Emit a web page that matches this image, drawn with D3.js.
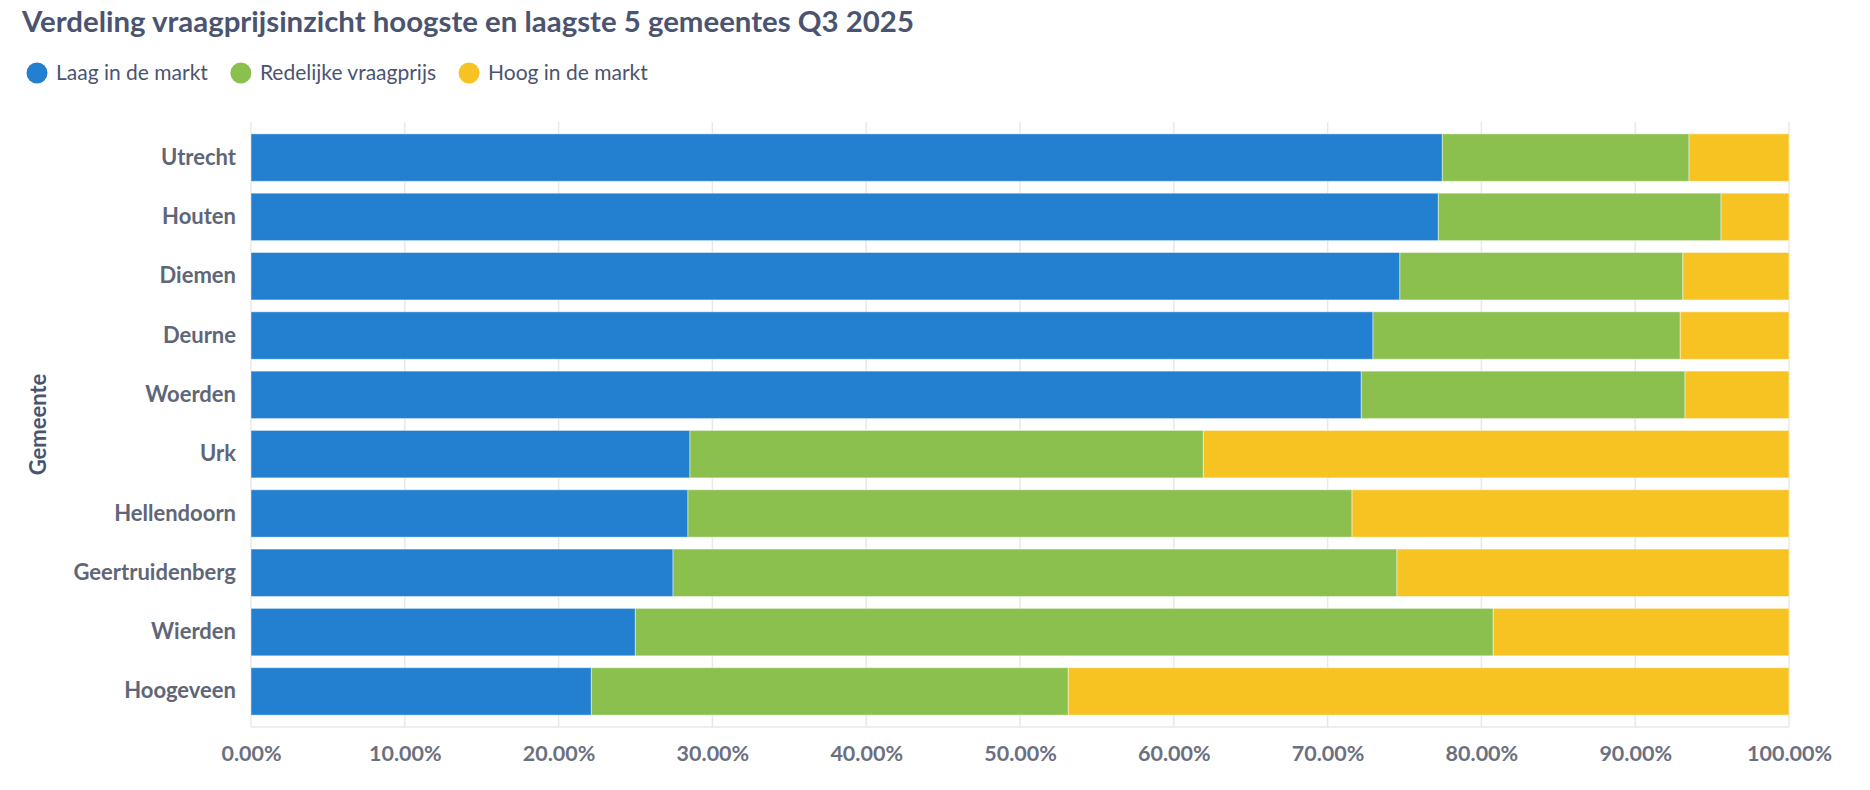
<!DOCTYPE html>
<html lang="nl">

<head>
  <title>Verdeling vraagprijsinzicht</title>
  <meta charset="UTF-8">
  <script src="https://cdn.jsdelivr.net/npm/d3@7"></script>
  <style>
    body {
      margin: 0;
      background: #fff;
      font-family: Lato, "Open Sans", sans-serif;
    }
  </style>
</head>

<body>
  <div id="chart"></div>
  <script>
    const gemeenten = ['Utrecht', 'Houten', 'Diemen', 'Deurne', 'Woerden',
      'Urk', 'Hellendoorn', 'Geertruidenberg', 'Wierden', 'Hoogeveen'];
    const laag = [77.46, 77.2, 74.7, 72.95, 72.19, 28.54, 28.41, 27.44, 24.99, 22.13];
    const redelijk = [16.04, 18.38, 18.4, 19.98, 21.05, 33.38, 43.18, 47.07, 55.78, 31.01];
    const hoog = [6.5, 4.42, 6.9, 7.07, 6.76, 38.08, 28.41, 25.49, 19.23, 46.86];
    const seriesNames = ['Laag in de markt', 'Redelijke vraagprijs', 'Hoog in de markt'];
    const xTicks = [0, 10, 20, 30, 40, 50, 60, 70, 80, 90, 100];

    const colors = ['#2380d1', '#8bc04f', '#f7c322'];
    const width = 1870, height = 790;
    const margin = { top: 122, right: 81, bottom: 63, left: 251 };

    const rows = gemeenten.map((g, i) => ({ g: g, s0: laag[i], s1: redelijk[i], s2: hoog[i] }));
    const stacked = d3.stack().keys(['s0', 's1', 's2'])(rows);

    const svg = d3.select('#chart').append('svg')
      .attr('width', width)
      .attr('height', height);

    const x = d3.scaleLinear()
      .domain([0, 100])
      .range([margin.left, width - margin.right]);

    const y = d3.scaleBand()
      .domain(gemeenten)
      .range([margin.top, height - margin.bottom])
      .paddingInner(0.2)
      .paddingOuter(0.2);

    // title
    svg.append('text')
      .attr('x', 22)
      .attr('y', 32)
      .style('font-size', '29.4px')
      .style('font-weight', 'bold')
      .style('fill', '#4a5470')
      .text('Verdeling vraagprijsinzicht hoogste en laagste 5 gemeentes Q3 2025');

    // legend
    let lx = 37;
    seriesNames.forEach((name, i) => {
      svg.append('circle')
        .attr('cx', lx)
        .attr('cy', 73)
        .attr('r', 10.5)
        .style('fill', colors[i]);
      const t = svg.append('text')
        .attr('x', lx + 19)
        .attr('y', 73)
        .attr('dy', '0.35em')
        .style('font-size', '21px')
        .style('fill', '#4a5470')
        .text(name);
      lx += 19 + t.node().getComputedTextLength() + 33;
    });

    // grid
    svg.append('g')
      .selectAll('line')
      .data(xTicks)
      .join('line')
      .attr('x1', d => x(d))
      .attr('x2', d => x(d))
      .attr('y1', margin.top)
      .attr('y2', height - margin.bottom)
      .style('stroke', '#e8e8e8')
      .style('stroke-width', 1.5);
    svg.append('line')
      .attr('x1', x(0))
      .attr('x2', x(100))
      .attr('y1', height - margin.bottom)
      .attr('y2', height - margin.bottom)
      .style('stroke', '#e8e8e8')
      .style('stroke-width', 1.5);

    // bars
    svg.append('g')
      .selectAll('g')
      .data(stacked)
      .join('g')
      .style('fill', (d, i) => colors[i])
      .selectAll('rect')
      .data(d => d)
      .join('rect')
      .attr('x', d => x(d[0]))
      .attr('y', d => y(d.data.g))
      .attr('width', d => x(d[1]) - x(d[0]))
      .attr('height', y.bandwidth())
      .style('stroke', '#fff')
      .style('stroke-opacity', 0.45)
      .style('stroke-width', 1);

    // x axis
    const xAxis = svg.append('g')
      .attr('transform', `translate(0,${height - margin.bottom})`)
      .call(d3.axisBottom(x).tickValues(xTicks).tickSize(0).tickPadding(19)
        .tickFormat(d => d.toFixed(2) + '%'));
    xAxis.select('.domain').remove();
    xAxis.selectAll('text')
      .style('font-family', 'Lato')
      .style('font-size', '21.5px')
      .style('font-weight', 'bold')
      .style('fill', '#6b7080');

    // y axis
    const yAxis = svg.append('g')
      .attr('transform', `translate(${margin.left},0)`)
      .call(d3.axisLeft(y).tickSize(0).tickPadding(15));
    yAxis.select('.domain').remove();
    yAxis.selectAll('text')
      .style('font-family', 'Lato')
      .style('font-size', '22px')
      .style('font-weight', 'bold')
      .style('fill', '#5f6677');

    svg.append('text')
      .attr('transform', `translate(38,${(margin.top + height - margin.bottom) / 2}) rotate(-90)`)
      .attr('text-anchor', 'middle')
      .attr('dy', '0.35em')
      .style('font-size', '22px')
      .style('font-weight', 'bold')
      .style('fill', '#4a5470')
      .text('Gemeente');
  </script>
</body>

</html>
